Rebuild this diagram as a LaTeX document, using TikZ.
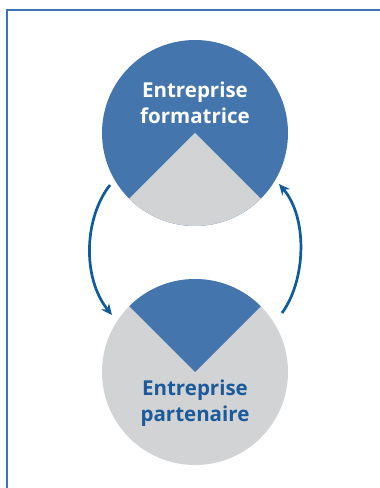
\documentclass[tikz,border=0pt]{standalone}
\usepackage{fontspec}
\setmainfont{Open Sans}
\usetikzlibrary{arrows.meta}
\definecolor{fillblue}{HTML}{4476AD}
\definecolor{fillgrey}{HTML}{D1D3D4}
\definecolor{arrowblue}{HTML}{0F5B9C}
\definecolor{textblue}{HTML}{1C5A9A}
\definecolor{frameblue}{HTML}{3E72B8}
\tikzset{
  disc/.style={circle, minimum size=186pt, inner sep=0pt},
  label/.style={align=center, font=\bfseries\fontsize{20.5}{26}\selectfont},
  cycleArrow/.style={arrowblue, line width=2.7pt, -{Stealth[length=11pt,width=10pt]}},
}
\begin{document}
\begin{tikzpicture}[x=1pt,y=1pt]
\useasboundingbox (0,0) rectangle (380,488);
% frame (top and left edges)
\draw[frameblue, line width=1.4pt] (7,0) -- (7,478) -- (380,478);
% top disc
\node[disc] (top) at (195,355) {};
\fill[fillblue] (top.center) circle[radius=93pt];
\fill[fillgrey] (top.center) -- ++(225:93pt) arc[start angle=225, end angle=315, radius=93pt] -- cycle;
\node[label, text=white] (toptext) at (195,385) {Entreprise\\formatrice};
% bottom disc
\node[disc] (bottom) at (195,116) {};
\fill[fillgrey] (bottom.center) circle[radius=93pt];
\fill[fillblue] (bottom.center) -- ++(45:93pt) arc[start angle=45, end angle=135, radius=93pt] -- cycle;
\node[label, text=textblue] (bottomtext) at (195,85) {Entreprise\\partenaire};
% arrows
\coordinate (a1) at (110,303);
\coordinate (a2) at (112,173);
\coordinate (b1) at (282,175);
\coordinate (b2) at (279,304);
\draw[cycleArrow] (a1) .. controls (84,270) and (82,210) .. (a2);
\draw[cycleArrow] (b1) .. controls (306,208) and (308,270) .. (b2);
\end{tikzpicture}
\end{document}
